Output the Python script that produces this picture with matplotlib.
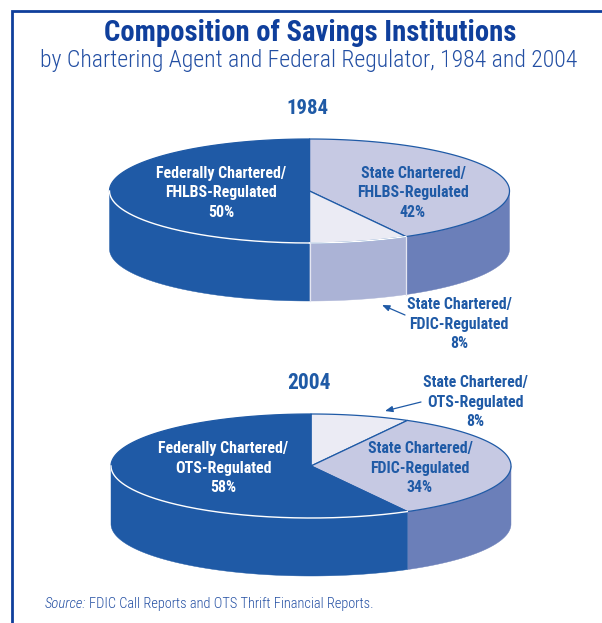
import numpy as np
import matplotlib
matplotlib.use("Agg")
import matplotlib.pyplot as plt
from matplotlib.patches import Polygon

# ---- data ----
labels_1984 = ["State Chartered/\nFHLBS-Regulated\n42%", "State Chartered/\nFDIC-Regulated\n8%", "Federally Chartered/\nFHLBS-Regulated\n50%"]
values_1984 = [42, 8, 50]
labels_2004 = ["State Chartered/\nOTS-Regulated\n8%", "State Chartered/\nFDIC-Regulated\n34%", "Federally Chartered/\nOTS-Regulated\n58%"]
values_2004 = [8, 34, 58]
title = "Composition of Savings Institutions"
subtitle = "by Chartering Agent and Federal Regulator, 1984 and 2004"

# ---- style ----
NAVY = "#0F3F9C"
BLUE = "#1F5AA6"
LAV = "#C6C9E3"
PALE = "#EBEBF4"
MID = "#6B7FB9"
SOFT = "#ABB3D6"
NARROW = "Roboto Condensed"

fig = plt.figure(figsize=(6.02, 6.23), dpi=100)
ax = fig.add_axes([0, 0, 1, 1])
ax.set_xlim(0, 602)
ax.set_ylim(623, 0)
ax.axis("off")


def pts(cx, cy, a, b, t0, t1, n=160):
    t = np.radians(np.linspace(t0, t1, n))
    return np.column_stack([cx + a * np.sin(t), cy - b * np.cos(t)])


def pie3d(values, cx, cy, a, b, depth, tops, sides):
    edges = np.concatenate([[0], np.cumsum(values)]) * 360 / sum(values)
    for i in range(len(values)):
        t0, t1 = max(edges[i], 90), min(edges[i + 1], 270)
        if t1 > t0:
            upper = pts(cx, cy, a, b, t0, t1)
            lower = upper[::-1] + [0, depth]
            ax.add_patch(Polygon(np.vstack([upper, lower]), fc=sides[i], ec=sides[i], lw=0.3, zorder=2))
    for i in range(len(values)):
        rim = pts(cx, cy, a, b, edges[i], edges[i + 1])
        ax.add_patch(Polygon(np.vstack([[cx, cy], rim]), fc=tops[i], ec=BLUE, lw=0.9, joinstyle="round", zorder=3))
    # pale highlight along the front rim of dark and pale slices
    for i in range(len(values)):
        t0, t1 = max(edges[i], 90), min(edges[i + 1], 270)
        if t1 > t0 and tops[i] in (BLUE, PALE):
            ax.plot(*pts(cx, cy, a, b, t0, t1).T, color="white", lw=1.0, zorder=4)
    # pale seams around the soft side panel only
    for i in range(len(values)):
        if sides[i] == SOFT and edges[i] >= 90:
            for e in edges[i:i + 2]:
                p = pts(cx, cy, a, b, e, e, 2)[0]
                ax.plot([p[0], p[0]], [p[1], p[1] + depth], color="#E4E6F2", lw=0.9, zorder=4)


pie3d(values_1984, 309.5, 191, 200, 52, 58, [LAV, PALE, BLUE], [MID, SOFT, BLUE])
pie3d(values_2004, 311, 466, 200, 52, 58, [PALE, LAV, BLUE], [SOFT, MID, BLUE])

# frame
ax.plot([12, 12, 602], [623, 11, 11], color=NAVY, lw=2.0, solid_joinstyle="miter", zorder=1)

# titles
ax.text(310, 33, title, ha="center", va="center", family=NARROW, weight="bold", fontsize=20.7, color=NAVY)
ax.text(309, 61, subtitle, ha="center", va="center", family=NARROW, weight=300, fontsize=17.1, color="#234FA3")
kw = dict(ha="center", va="center", family=NARROW, weight="bold", color=BLUE)
ax.text(308, 109, "1984", fontsize=15, **kw)
ax.text(309, 383, "2004", fontsize=15.5, **kw)

lab = dict(ha="center", va="center", family=NARROW, weight="bold", fontsize=11.4, linespacing=1.38)
ax.text(221, 193, labels_1984[2], color="white", **lab)
ax.text(413, 193, labels_1984[0], color=BLUE, **lab)
ax.text(459, 324, labels_1984[1], color=BLUE, **lab)
ax.text(223, 468, labels_2004[2], color="white", **lab)
ax.text(420, 468, labels_2004[1], color=BLUE, **lab)
ax.text(475, 402, labels_2004[0], color=BLUE, **lab)

arrow = dict(arrowstyle="-|>,head_length=0.45,head_width=0.18", color=BLUE, lw=0.9, shrinkA=0, shrinkB=0)
ax.annotate("", xy=(382, 305), xytext=(405, 315), arrowprops=arrow)
ax.annotate("", xy=(385, 411), xytext=(421, 402), arrowprops=arrow)

# source
ax.text(45, 604, "Source:", ha="left", va="center", family=NARROW, weight=300, style="italic", fontsize=10.5, color="#234FA3")
ax.text(89, 604, "FDIC Call Reports and OTS Thrift Financial Reports.", ha="left", va="center", family=NARROW, weight=300, fontsize=10.4, color="#234FA3")

fig.savefig("out.png", dpi=100, facecolor="white")
